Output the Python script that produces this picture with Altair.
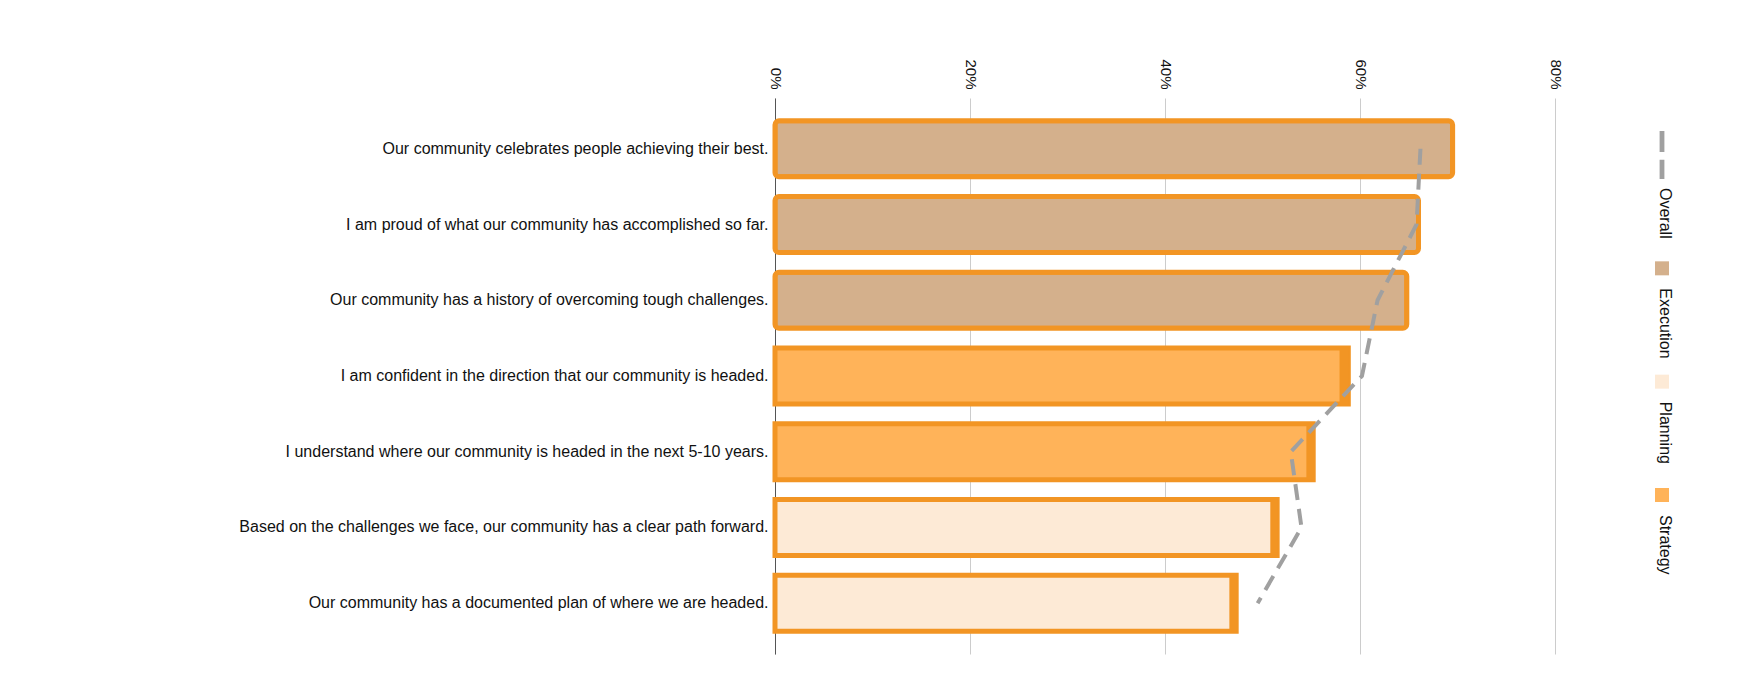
import altair as alt
import pandas as pd

# ---------------- data ----------------
statements = [
    "Our community celebrates people achieving their best.",
    "I am proud of what our community has accomplished so far.",
    "Our community has a history of overcoming tough challenges.",
    "I am confident in the direction that our community is headed.",
    "I understand where our community is headed in the next 5-10 years.",
    "Based on the challenges we face, our community has a clear path forward.",
    "Our community has a documented plan of where we are headed.",
]
groups = ["Execution", "Execution", "Execution", "Strategy", "Strategy", "Planning", "Planning"]
bar_values = [69.5, 66.0, 64.8, 58.8, 55.2, 51.5, 47.3]      # % (outer bar end)
fill_ends = [69.5, 66.0, 64.8, 57.9, 54.5, 50.8, 46.6]       # % (where the light fill stops)
overall = [66.2, 65.8, 61.8, 60.2, 52.9, 54.0, 49.5]         # % (dashed Overall line)

tick_values = [0, 0.2, 0.4, 0.6, 0.8]
legend_items = ["Overall", "Execution", "Planning", "Strategy"]
group_names = ["Execution", "Planning", "Strategy"]
group_fills = ["#d4b08c", "#fdead6", "#ffb359"]

ORANGE = "#f29524"
LINE_GREY = "#a0a0a0"
FONT = "Liberation Sans"

df = pd.DataFrame({
    "idx": list(range(len(statements))),
    "statement": statements,
    "group": groups,
    "value": [v / 100 for v in bar_values],
    "fill_end": [v / 100 for v in fill_ends],
    "overall": [v / 100 for v in overall],
})
leg = pd.DataFrame({"item": legend_items})

# ---------------- encodings ----------------
x_scale = alt.Scale(domain=[0, 0.8], nice=False, zero=True)
x_axis = alt.Axis(
    orient="top", format=".0%", values=tick_values, labelAngle=90,
    labelAlign="right", labelBaseline="middle", labelFontSize=15,
    labelPadding=9, ticks=False, tickSize=0, domain=False, grid=True,
    gridColor="#cccccc", labelColor="#111111", labelFont=FONT, title=None,
)
y_enc = alt.Y(
    "statement:N", sort=statements,
    scale=alt.Scale(paddingInner=0.26, paddingOuter=0.3),
    axis=alt.Axis(
        title=None, labelLimit=0, labelFontSize=16, labelPadding=7,
        ticks=False, domainColor="#555555", labelColor="#111111",
        labelFont=FONT, grid=False,
    ),
)
color_enc = alt.Color(
    "group:N", scale=alt.Scale(domain=group_names, range=group_fills), legend=None
)

base = alt.Chart(df)

exec_bars = base.transform_filter(alt.datum.group == "Execution").mark_bar(
    cornerRadius=4, stroke=ORANGE, strokeWidth=5
).encode(
    x=alt.X("value:Q", scale=x_scale, axis=x_axis),
    y=y_enc,
    color=color_enc,
)

other_bars = base.transform_filter(alt.datum.group != "Execution").mark_bar(
    stroke=ORANGE, strokeWidth=5
).encode(
    x=alt.X("value:Q", scale=x_scale, axis=x_axis),
    y=y_enc,
    color=color_enc,
)

caps = base.transform_filter(alt.datum.group != "Execution").mark_bar(
    color=ORANGE
).encode(
    x=alt.X("fill_end:Q", scale=x_scale, axis=x_axis),
    x2="value:Q",
    y=y_enc,
)

line = base.mark_line(
    color=LINE_GREY, strokeWidth=4, strokeDash=[16, 9]
).encode(
    x=alt.X("overall:Q", scale=x_scale, axis=x_axis),
    y=y_enc,
    order=alt.Order("idx:Q"),
)

main = alt.layer(exec_bars, other_bars, caps, line)

# ---------------- manual (rotated) legend ----------------
leg_y = alt.Y(
    "item:N", sort=legend_items,
    scale=alt.Scale(type="point", range=[57, 397], padding=0),
    axis=None,
)
leg_base = alt.Chart(leg)

leg_overall_sym = leg_base.transform_filter(alt.datum.item == "Overall").mark_point(
    shape="M-0.1,-1L0.1,-1L0.1,-0.12L-0.1,-0.12Z M-0.1,0.2L0.1,0.2L0.1,1L-0.1,1Z",
    filled=True, color=LINE_GREY, size=2304, opacity=1,
).encode(x=alt.value(887), y=leg_y)

leg_squares = leg_base.transform_filter(alt.datum.item != "Overall").mark_square(
    size=196, opacity=1
).encode(
    x=alt.value(887), y=leg_y,
    color=alt.Color("item:N", scale=alt.Scale(domain=group_names, range=group_fills), legend=None),
)

leg_text_overall = leg_base.transform_filter(alt.datum.item == "Overall").mark_text(
    angle=90, align="left", baseline="middle", fontSize=16, font=FONT,
    color="#111111", yOffset=33,
).encode(x=alt.value(890), y=leg_y, text="item:N")

leg_text_groups = leg_base.transform_filter(alt.datum.item != "Overall").mark_text(
    angle=90, align="left", baseline="middle", fontSize=16, font=FONT,
    color="#111111", yOffset=20,
).encode(x=alt.value(890), y=leg_y, text="item:N")

legend_layer = alt.layer(
    leg_overall_sym, leg_squares, leg_text_overall, leg_text_groups
)

chart = alt.layer(main, legend_layer).resolve_scale(
    y="independent", color="independent"
).properties(
    width=780, height=556,
    padding={"left": 230, "top": 50, "right": 5, "bottom": 5},
).configure(
    font=FONT
).configure_view(
    strokeWidth=0, stroke="transparent"
)

chart.save("out.html", embed_options={"renderer": "svg", "actions": False})
